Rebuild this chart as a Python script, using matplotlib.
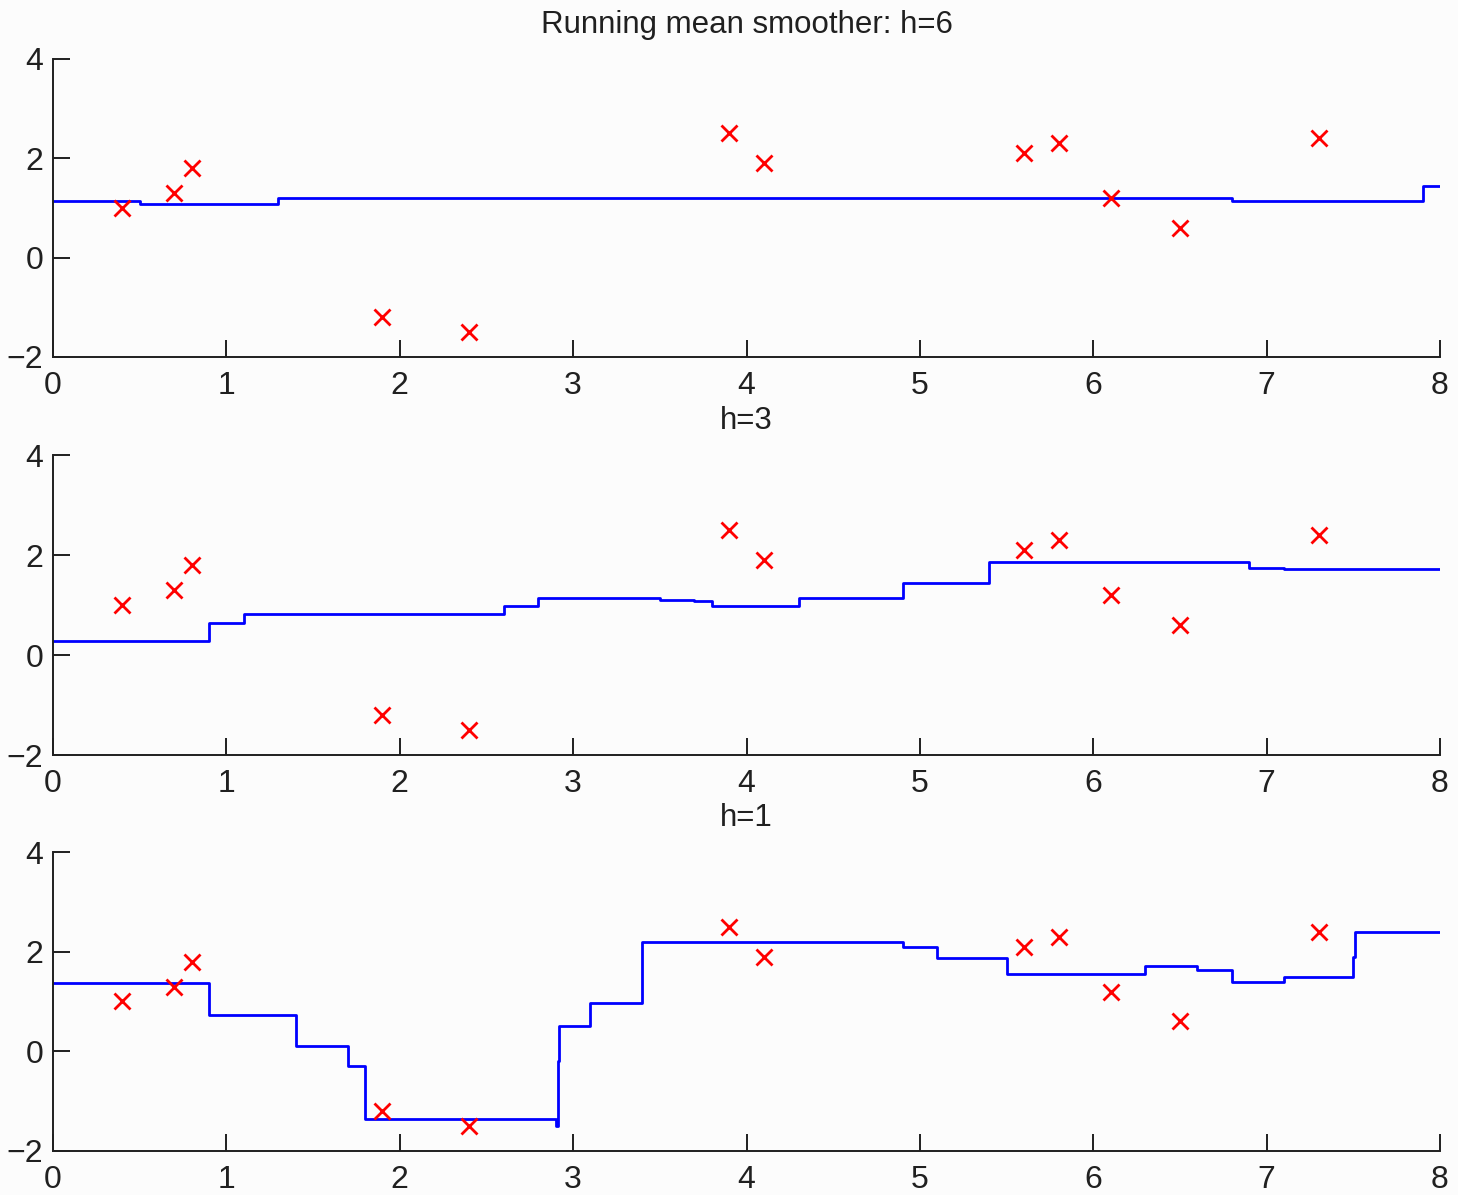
import matplotlib
matplotlib.use("Agg")
import matplotlib.pyplot as plt

plt.rcParams["font.family"] = ["Liberation Sans", "DejaVu Sans"]

# observed points
x_obs = [0.4, 0.7, 0.8, 1.9, 2.4, 3.9, 4.1, 5.6, 5.8, 6.1, 6.5, 7.3]
y_obs = [1.0, 1.3, 1.8, -1.2, -1.5, 2.5, 1.9, 2.1, 2.3, 1.2, 0.6, 2.4]

# smoother output as step edges / levels for each bandwidth
edges_h6 = [0.0, 0.5, 1.3, 6.8, 7.9]
level_h6 = [1.14, 1.09, 1.20, 1.14, 1.44]

edges_h3 = [0.0, 0.9, 1.1, 2.6, 2.8, 3.5, 3.7, 3.8, 4.3, 4.9, 5.4, 6.9, 7.1]
level_h3 = [0.28, 0.65, 0.83, 0.99, 1.14, 1.10, 1.08, 0.99, 1.14, 1.44, 1.86, 1.75, 1.72]

edges_h1 = [0.0, 0.9, 1.4, 1.7, 1.8, 2.9, 2.91, 2.92, 3.1, 3.4, 4.9, 5.1, 5.5,
            6.3, 6.6, 6.8, 7.1, 7.5, 7.51]
level_h1 = [1.37, 0.73, 0.10, -0.30, -1.35, -1.50, -0.20, 0.50, 0.97, 2.20, 2.10,
            1.87, 1.55, 1.72, 1.63, 1.40, 1.50, 1.90, 2.40]

x_end = 8.0
titles = ["Running mean smoother: h=6", "h=3", "h=1"]
panels = [(edges_h6, level_h6), (edges_h3, level_h3), (edges_h1, level_h1)]

W, H = 1458, 1195
fig = plt.figure(figsize=(W / 100, H / 100), dpi=100, facecolor="#fcfcfc")

# axes boxes in pixels: (top, bottom)
rows = [(59, 357), (455, 755), (852, 1151)]
left, right = 53, 1440

for (top, bot), (edges, levels), title in zip(rows, panels, titles):
    ax = fig.add_axes([left / W, 1 - bot / H, (right - left) / W, (bot - top) / H])
    ax.set_facecolor("#fcfcfc")
    ax.step(edges + [x_end], levels + [levels[-1]], where="post",
            color="#0000ff", lw=2.0)
    ax.plot(x_obs, y_obs, "x", color="#ff0000", ms=11, mew=2.0)
    ax.set_xlim(0, 8)
    ax.set_ylim(-2, 4)
    ax.set_xticks(range(0, 9))
    ax.set_yticks([-2, 0, 2, 4])
    for s in ["top", "right"]:
        ax.spines[s].set_visible(False)
    for s in ["left", "bottom"]:
        ax.spines[s].set_color("#202020")
        ax.spines[s].set_linewidth(1.4)
    ax.tick_params(direction="in", length=12, width=1.4, color="#202020",
                   labelsize=23, labelcolor="#202020")
    ax.tick_params(axis="x", pad=10)
    ax.tick_params(axis="y", pad=7)
    ax.set_title(title, fontsize=22.5, pad=19, color="#202020")

fig.savefig("out.png", dpi=100, facecolor=fig.get_facecolor())
